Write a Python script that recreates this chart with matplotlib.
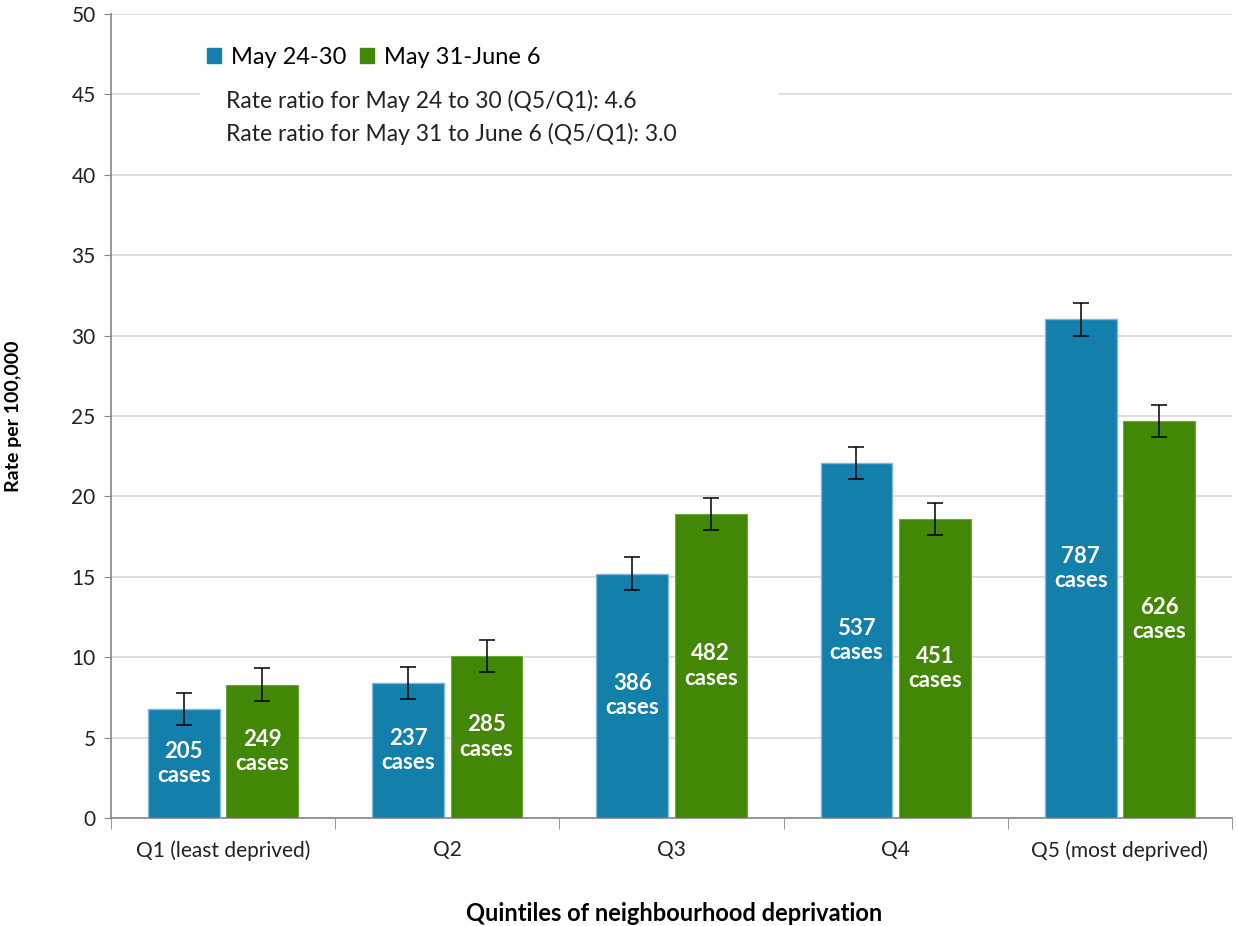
import matplotlib
matplotlib.use('Agg')
import matplotlib.pyplot as plt
import numpy as np
from matplotlib.patches import Rectangle

categories = ['Q1 (least deprived)', 'Q2', 'Q3', 'Q4', 'Q5 (most deprived)']
series_names = ['May 24-30', 'May 31-June 6']
rate_may24 = [6.8, 8.4, 15.2, 22.1, 31.0]
rate_may31 = [8.3, 10.1, 18.9, 18.6, 24.7]
err_may24 = [1.0, 1.0, 1.0, 1.0, 1.0]
err_may31 = [1.0, 1.0, 1.0, 1.0, 1.0]
cases_may24 = [205, 237, 386, 537, 787]
cases_may31 = [249, 285, 482, 451, 626]
ratio_lines = ['Rate ratio for May 24 to 30 (Q5/Q1): 4.6',
               'Rate ratio for May 31 to June 6 (Q5/Q1): 3.0']

plt.rcParams['font.family'] = ['Lato', 'DejaVu Sans']

blue = '#1280aa'
green = '#428806'

fig = plt.figure(figsize=(12.36, 9.26), dpi=100)
ax = fig.add_axes([0.0898, 0.1166, 0.907, 0.8684])

x = np.arange(len(categories))
w = 0.32
off = 0.175
ax.bar(x - off, rate_may24, w, color=blue, edgecolor='#7fb6dc', linewidth=1.0, zorder=3)
ax.bar(x + off, rate_may31, w, color=green, edgecolor='#6aa83a', linewidth=0.8, zorder=3)
ax.errorbar(x - off, rate_may24, yerr=err_may24, fmt='none', ecolor='black',
            elinewidth=1.1, capsize=6, capthick=1.1, zorder=4)
ax.errorbar(x + off, rate_may31, yerr=err_may31, fmt='none', ecolor='black',
            elinewidth=1.1, capsize=6, capthick=1.1, zorder=4)

for xi, v, c in zip(x - off, rate_may24, cases_may24):
    ax.text(xi, v / 2, f'{c}\ncases', ha='center', va='center', color='white',
            fontsize=16, fontweight='bold', linespacing=1.2, zorder=5)
for xi, v, c in zip(x + off, rate_may31, cases_may31):
    ax.text(xi, v / 2, f'{c}\ncases', ha='center', va='center', color='white',
            fontsize=16, fontweight='bold', linespacing=1.2, zorder=5)

ax.set_xlim(-0.5, len(categories) - 0.5)
ax.set_ylim(0, 50)
ax.set_yticks(np.arange(0, 51, 5))
ax.tick_params(axis='y', labelsize=15, length=5, color='#868686', pad=6, labelcolor='#222222')
ax.set_xticks(x)
ax.set_xticklabels(categories, fontsize=15)
ax.tick_params(axis='x', length=0, pad=16, labelcolor='#222222')
ax.set_xticks(np.arange(-0.5, len(categories)), minor=True)
ax.tick_params(axis='x', which='minor', length=8, color='#868686')
ax.yaxis.grid(True, color='#d9d9d9', linewidth=1.2, zorder=0)
ax.set_axisbelow(True)
for s in ['top', 'right']:
    ax.spines[s].set_visible(False)
for s in ['left', 'bottom']:
    ax.spines[s].set_color('#868686')
    ax.spines[s].set_linewidth(1.2)

ax.set_ylabel('Rate per 100,000', fontsize=14, fontweight='bold')
ax.yaxis.set_label_coords(-0.079, 0.5)
ax.set_xlabel('Quintiles of neighbourhood deprivation', fontsize=17, fontweight='bold')
ax.xaxis.set_label_coords(0.502, -0.104)

# white box behind legend and ratio text
box = Rectangle((200 / 1236, 1 - 150 / 926), 578 / 1236, 110 / 926,
                transform=fig.transFigure, facecolor='white', edgecolor='none', zorder=2)
fig.patches.append(box)

h1 = Rectangle((0, 0), 1, 1, color=blue)
h2 = Rectangle((0, 0), 1, 1, color=green)
fig.legend([h1, h2], series_names, loc='center left', bbox_to_anchor=(207 / 1236, 1 - 57 / 926),
           ncol=2, frameon=False, fontsize=17, handlelength=0.6, handleheight=0.6,
           handletextpad=0.4, columnspacing=0.6, borderaxespad=0, borderpad=0)
fig.text(226 / 1236, 1 - 101 / 926, ratio_lines[0], fontsize=16.5, va='center', color='#222222')
fig.text(226 / 1236, 1 - 134 / 926, ratio_lines[1], fontsize=16.5, va='center', color='#222222')

fig.savefig('out.png', dpi=100)
